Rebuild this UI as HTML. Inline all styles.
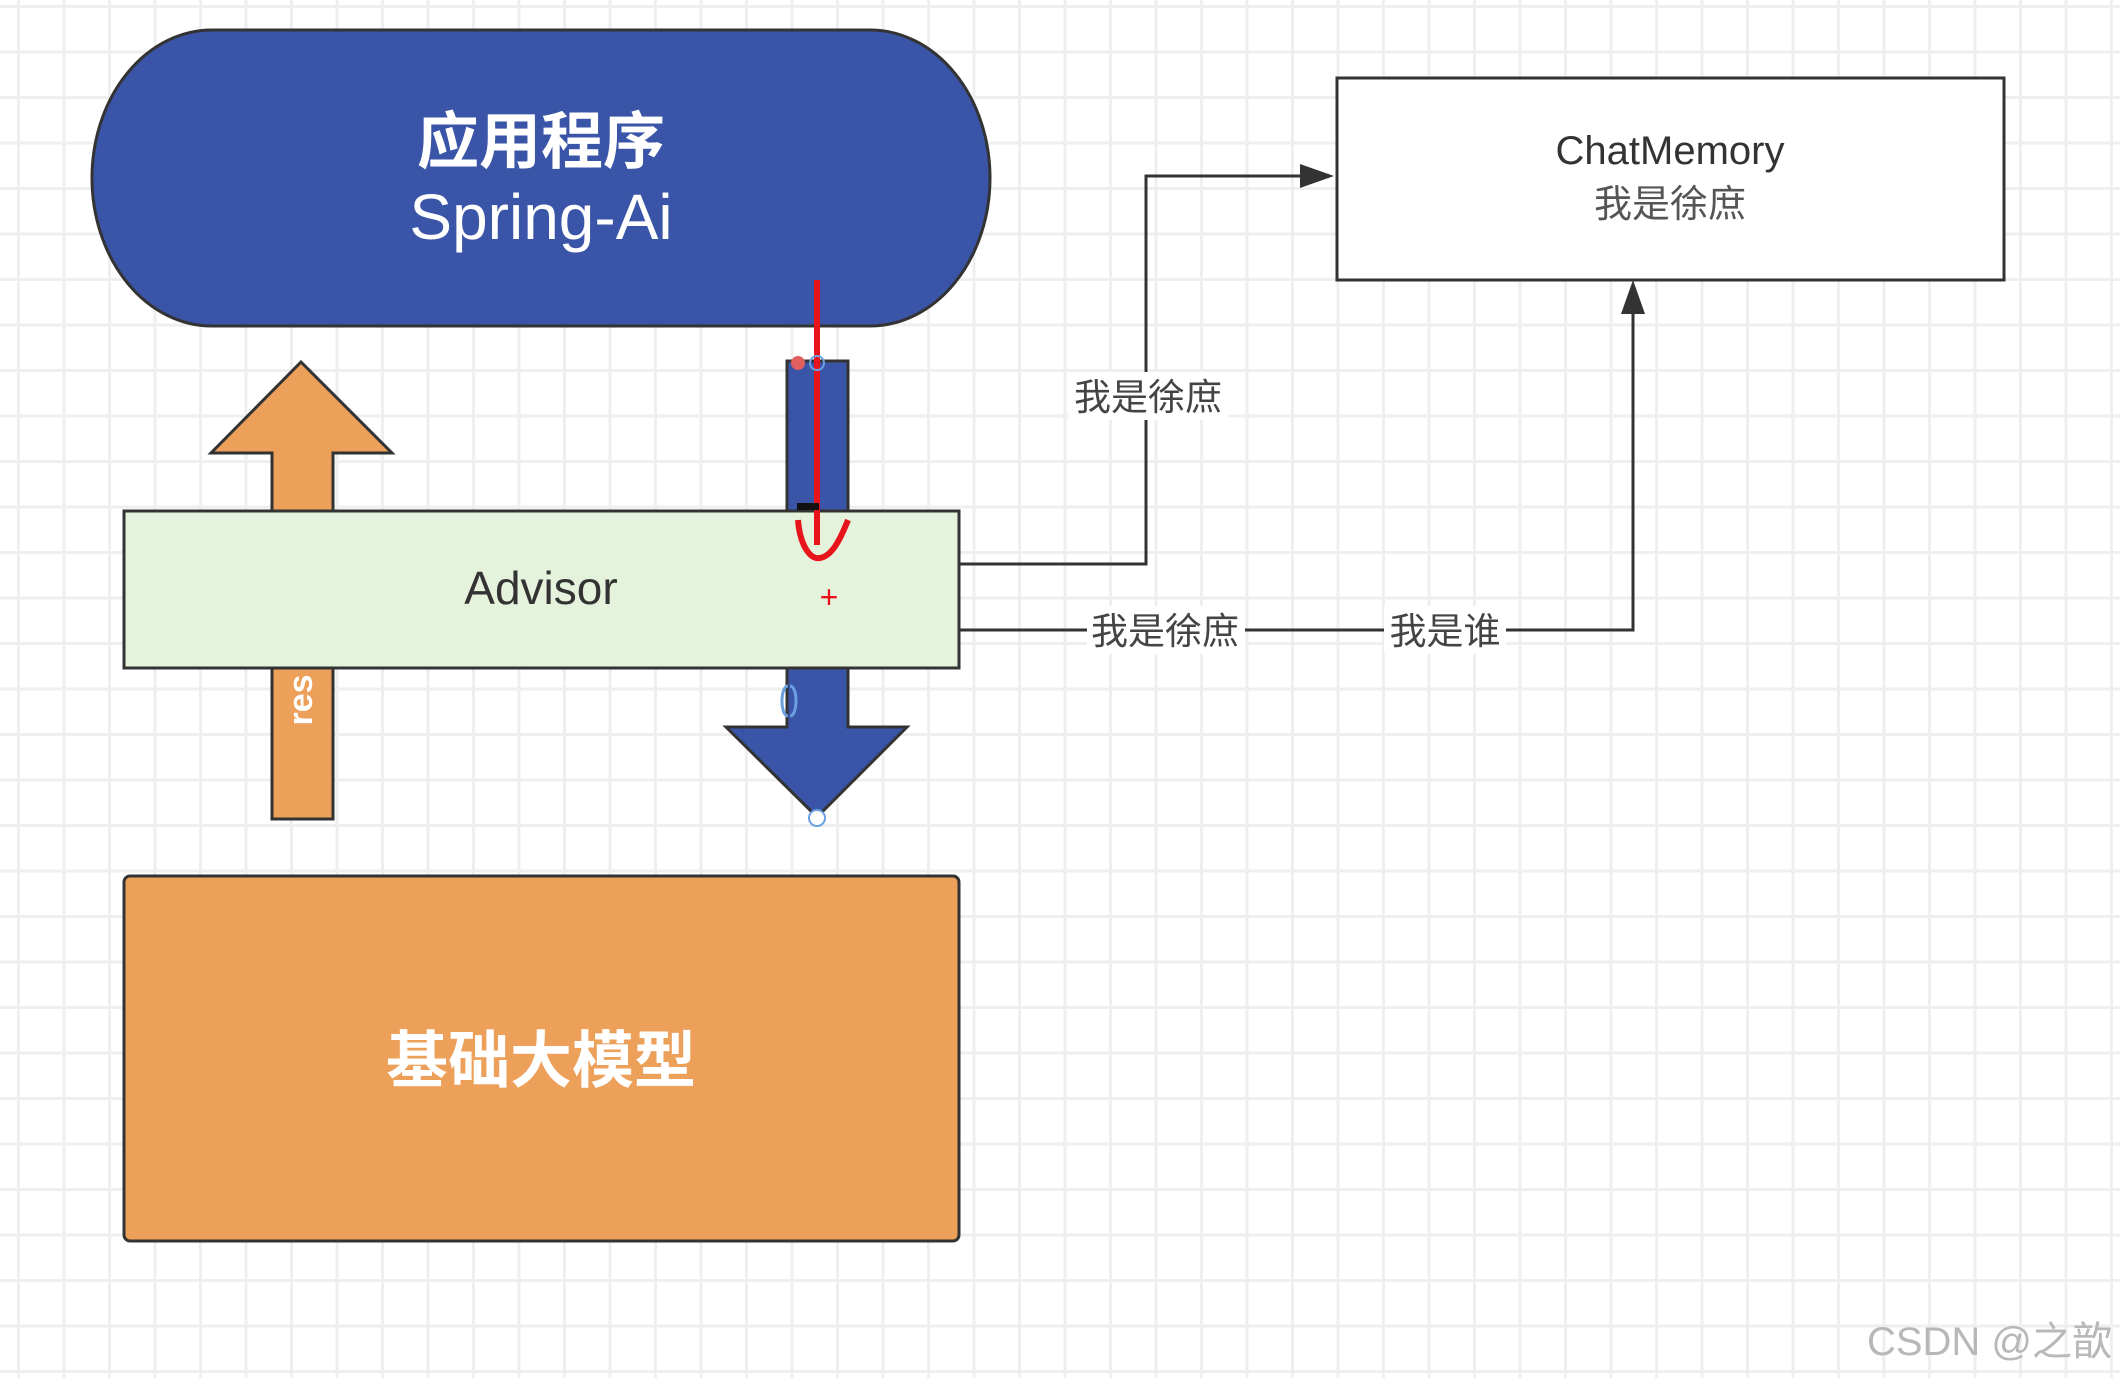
<!DOCTYPE html>
<html><head><meta charset="utf-8"><style>
html,body{margin:0;padding:0;}
body{width:2120px;height:1378px;overflow:hidden;background:#fff;
background-image:linear-gradient(#efefef 3px,transparent 3px),linear-gradient(90deg,#efefef 3px,transparent 3px);
background-size:45.5px 45.5px;background-position:17px 5px;}
svg text{font-family:"Liberation Sans","Noto Sans CJK SC",sans-serif;}
</style></head><body>
<svg width="2120" height="1378" viewBox="0 0 2120 1378" xmlns="http://www.w3.org/2000/svg" style="position:absolute;left:0;top:0">
<rect x="92" y="30" width="898" height="296" rx="120" ry="148" fill="#3a55a8" stroke="#333" stroke-width="3"/>
<text x="541" y="163" fill="#fff" font-size="62" text-anchor="middle" font-weight="bold">应用程序</text>
<text x="541" y="239" fill="#fff" font-size="64" text-anchor="middle">Spring-Ai</text>
<polygon points="301,362 392,453 333,453 333,819 272,819 272,453 211,453" fill="#eda05a" stroke="#333" stroke-width="3"/>
<text transform="translate(312,700) rotate(-90)" fill="#fff" font-size="34" font-weight="bold" text-anchor="middle">res</text>
<polygon points="787,361 848,361 848,727 907,727 817,817 726,727 787,727" fill="#3a55a8" stroke="#333" stroke-width="3"/>
<rect x="124" y="511" width="835" height="157" fill="#e6f3dc" stroke="#333" stroke-width="3"/>
<text x="541" y="604" fill="#333" font-size="46" text-anchor="middle">Advisor</text>
<rect x="124" y="876" width="835" height="365" rx="6" fill="#eda05a" stroke="#333" stroke-width="3"/>
<text x="541" y="1082" fill="#fff" font-size="62" text-anchor="middle" font-weight="bold">基础大模型</text>
<rect x="1337" y="78" width="667" height="202" fill="#fff" stroke="#333" stroke-width="3"/>
<text x="1670" y="164" fill="#333" font-size="40" text-anchor="middle">ChatMemory</text>
<text x="1670" y="217" fill="#555" font-size="38" text-anchor="middle">我是徐庶</text>
<polyline points="959,564 1146,564 1146,176 1305,176" fill="none" stroke="#333" stroke-width="3"/>
<polygon points="1334,176 1300,164 1300,188" fill="#333"/>
<rect x="1068" y="372" width="160" height="48" fill="#fff"/>
<text x="1148" y="410" fill="#444" font-size="37" text-anchor="middle">我是徐庶</text>
<polyline points="959,630 1633,630 1633,308" fill="none" stroke="#333" stroke-width="3"/>
<polygon points="1633,280 1621,314 1645,314" fill="#333"/>
<rect x="1087" y="606" width="158" height="48" fill="#fff"/>
<text x="1165" y="644" fill="#444" font-size="37" text-anchor="middle">我是徐庶</text>
<rect x="1384" y="606" width="122" height="48" fill="#fff"/>
<text x="1445" y="644" fill="#444" font-size="37" text-anchor="middle">我是谁</text>
<line x1="817" y1="280" x2="817" y2="545" stroke="#e8141c" stroke-width="6"/>
<path d="M798,520 C800,545 810,560 820,558 C832,556 840,540 848,520" fill="none" stroke="#e8141c" stroke-width="6"/>
<rect x="797" y="503" width="22" height="7" fill="#111"/>
<circle cx="798" cy="363" r="7" fill="#e06060"/>
<circle cx="817" cy="363" r="7" fill="none" stroke="#6aa0e0" stroke-width="2"/>
<circle cx="817" cy="818" r="8" fill="#fff" stroke="#6aa0e0" stroke-width="2"/>
<path d="M788,686 c-8,0 -8,30 0,30 M790,686 c8,0 8,30 0,30" fill="none" stroke="#6aa0e0" stroke-width="3"/>
<text x="829" y="608" fill="#e8141c" font-size="32" text-anchor="middle">+</text>
<text x="2112" y="1355" fill="#b8b8b8" font-size="40" text-anchor="end">CSDN @之歆</text>
</svg>
</body></html>
